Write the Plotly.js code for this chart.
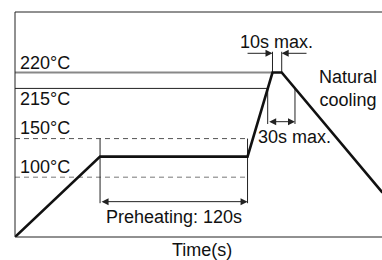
<!DOCTYPE html>
<html><head><meta charset="utf-8">
<script src="https://cdn.plot.ly/plotly-3.0.1.min.js"></script>
<style>html,body{margin:0;padding:0;background:#fff}#c{width:382px;height:260px}</style>
</head><body><div id="c"></div>
<script>
// ---- data (schematic reflow profile: time in s, level in °C-scale) ----
const profileTime = [0, 69.2, 189.2, 209.5, 217, 299];
const profileTemp = [22.5, 126.6, 126.6, 235.6, 235.6, 80];
const refLabels = ['220°C', '215°C', '150°C', '100°C'];
const refLevels = [235.6, 215, 150, 100];
const refEnds = [209.5, 205.6, 188.5, 188.5];
const preheatSpan = [69.2, 189.2];      // Preheating: 120s
const peakSpan = [209.5, 217];          // 10s max.
const over215Span = [205.6, 227.8];     // 30s max.
const texts = ['Preheating: 120s', '10s max.', '30s max.', 'Natural<br>cooling'];

const FONT = {family: 'Liberation Sans, Arial, sans-serif', size: 18, color: '#111'};
const shapes = [];
const line = (x0, y0, x1, y1, color, width, dash) => shapes.push({
  type: 'line', xref: 'x', yref: 'y', x0, y0, x1, y1,
  line: {color, width, dash: dash || 'solid'}, layer: 'below'
});
// frame (top, left, bottom)
[[0,1,1,1],[0,0,0,1],[0,0,1,0]].forEach(p => shapes.push({
  type: 'line', xref: 'paper', yref: 'paper', x0: p[0], y0: p[1], x1: p[2], y1: p[3],
  line: {color: '#222', width: 1}
}));
// reference level lines
line(0, refLevels[0], refEnds[0], refLevels[0], '#888', 2);
line(0, refLevels[1], refEnds[1], refLevels[1], '#222', 1);
line(0, refLevels[2], refEnds[2], refLevels[2], '#555', 1, '5px,4px');
line(0, refLevels[3], refEnds[3], refLevels[3], '#777', 1, '5px,4px');
// preheating markers
preheatSpan.forEach(t => line(t, refLevels[2], t, 66.3, '#222', 1));
// 10 s markers
peakSpan.forEach(t => line(t, refLevels[0], t, 262.5, '#222', 1));
// 30 s markers
over215Span.forEach(t => line(t, refLevels[1], t, 168.9, '#222', 1));

const annotations = [];
refLabels.forEach((lab, i) => annotations.push({
  x: 2.4, y: [248.3, 201.7, 163.3, 112.6][i], xref: 'x', yref: 'y', text: lab,
  showarrow: false, xanchor: 'left', yanchor: 'middle', font: FONT
}));
const txt = (s, x, y) => annotations.push({x, y, xref: 'x', yref: 'y', text: s,
  showarrow: false, xanchor: 'center', yanchor: 'middle', font: FONT});
txt(texts[0], 129.4, 48.8);
txt(texts[1], 213, 275.5);
txt(texts[2], 227.4, 152.5);
txt(texts[3], 271, 215.5);
annotations.push({x: 0.5095, y: -0.057, xref: 'paper', yref: 'paper', text: 'Time(s)',
  showarrow: false, xanchor: 'center', yanchor: 'middle', font: FONT});
const arrow = (x, y, ax, ay, side) => annotations.push({
  x, y, ax, ay, xref: 'x', yref: 'y', axref: 'x', ayref: 'y', text: '',
  showarrow: true, arrowhead: 2, arrowsize: 1.4, arrowwidth: 1, arrowcolor: '#222',
  arrowside: side || 'end'
});
arrow(preheatSpan[1], 68.3, preheatSpan[0], 68.3, 'end+start');
arrow(over215Span[1], 171.9, over215Span[0], 171.9, 'end+start');
arrow(peakSpan[0], 260.5, 188, 260.5);
arrow(peakSpan[1], 260.5, 238.4, 260.5);

const trace = {x: profileTime, y: profileTemp, type: 'scatter', mode: 'lines',
  line: {color: '#111', width: 2.6}, hoverinfo: 'skip'};

const ax = {showgrid: false, zeroline: false, showticklabels: false, ticks: '', showline: false, fixedrange: true};
Plotly.newPlot('c', [trace], {
  width: 382, height: 260, margin: {l: 15, r: 0, t: 12, b: 23},
  paper_bgcolor: '#fff', plot_bgcolor: '#fff', showlegend: false,
  xaxis: Object.assign({range: [0, 298.6]}, ax),
  yaxis: Object.assign({range: [22.5, 314]}, ax),
  shapes, annotations
}, {staticPlot: true, displayModeBar: false});
</script></body></html>
